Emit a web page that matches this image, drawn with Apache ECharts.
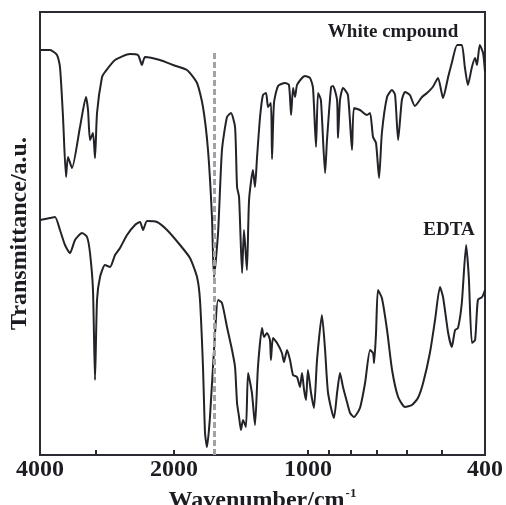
<!DOCTYPE html>
<html>
<head>
<meta charset="utf-8">
<script src="https://cdn.jsdelivr.net/npm/echarts@6/dist/echarts.min.js"></script>
<style>
  html, body { margin: 0; padding: 0; background: #fff; }
  #chart { width: 506px; height: 505px; }
</style>
</head>
<body>
<div id="chart"></div>
<script>
// IR spectra, wavenumber (cm-1) vs transmittance (arbitrary units)
var whiteWn = [4000, 3798, 3663, 3607, 3551, 3496, 3461, 3390, 3252, 3153, 3120, 3088, 3041, 3009, 2978, 2902, 2858, 2713, 2511, 2409, 2360, 2323, 2150, 2010, 1870, 1775, 1721, 1677, 1643, 1626, 1592, 1560, 1520, 1489, 1458, 1443, 1428, 1406, 1392, 1371, 1356, 1329, 1315, 1301, 1281, 1262, 1242, 1229, 1211, 1204, 1192, 1167, 1126, 1103, 1091, 1080, 1069, 1058, 1031, 1015, 989, 974, 959, 949, 935, 915, 906, 887, 878, 860, 856, 847, 834, 813, 796, 788, 764, 737, 725, 714, 703, 692, 682, 664, 647, 637, 627, 615, 605, 590, 575, 554, 540, 524, 510, 497, 484, 475, 462, 451, 444, 437, 428, 421, 417, 411, 404, 400];
var whiteTr = [405, 405, 400, 388, 338, 278, 298, 287, 328, 358, 345, 315, 322, 297, 342, 378, 383, 395, 401, 400, 390, 398, 395, 390, 385, 372, 348, 305, 238, 178, 222, 305, 338, 342, 328, 268, 258, 182, 225, 185, 255, 285, 268, 298, 338, 360, 362, 348, 352, 296, 352, 369, 372, 370, 340, 367, 358, 370, 377, 379, 377, 367, 308, 362, 355, 282, 315, 368, 369, 355, 317, 355, 367, 360, 305, 347, 345, 340, 342, 318, 312, 277, 322, 358, 365, 360, 315, 355, 363, 360, 349, 358, 362, 368, 377, 357, 378, 392, 410, 410, 388, 370, 388, 397, 390, 410, 402, 383];

var edtaWn = [4000, 3798, 3701, 3607, 3515, 3425, 3337, 3219, 3136, 3088, 3041, 3009, 2978, 2932, 2858, 2784, 2713, 2644, 2550, 2447, 2384, 2347, 2299, 2183, 2073, 1938, 1841, 1775, 1748, 1721, 1703, 1686, 1660, 1617, 1592, 1560, 1520, 1481, 1458, 1443, 1428, 1414, 1399, 1378, 1363, 1336, 1315, 1295, 1268, 1255, 1236, 1217, 1211, 1198, 1173, 1144, 1132, 1114, 1097, 1080, 1058, 1042, 1031, 1020, 1010, 1000, 984, 969, 954, 930, 915, 901, 874, 860, 847, 834, 817, 804, 788, 764, 744, 725, 714, 710, 703, 696, 682, 664, 647, 627, 605, 584, 566, 551, 532, 518, 505, 497, 484, 475, 467, 460, 451, 441, 435, 428, 421, 415, 406, 400];
var edtaTr = [235, 237, 238, 225, 210, 202, 215, 222, 218, 202, 165, 75, 155, 178, 190, 188, 200, 207, 220, 230, 233, 225, 234, 233, 225, 210, 197, 178, 155, 88, 22, 8, 38, 122, 155, 152, 128, 105, 88, 52, 38, 25, 35, 28, 82, 62, 30, 88, 127, 118, 122, 115, 95, 117, 112, 102, 93, 105, 95, 80, 78, 68, 82, 65, 55, 85, 62, 47, 95, 140, 105, 62, 37, 62, 82, 68, 53, 42, 38, 47, 72, 105, 102, 92, 122, 165, 157, 125, 85, 58, 48, 50, 57, 72, 102, 135, 168, 158, 122, 108, 125, 127, 152, 210, 178, 112, 115, 155, 158, 165];

var tickValues = [4000, 3000, 2000, 1000, 900, 800, 700, 600, 500, 400];
var labelValues = [4000, 2000, 1000, 400];
var refLine = 1620;

function pairs(xs, ys) {
  var out = [];
  for (var i = 0; i < xs.length; i++) out.push([xs[i], ys[i]]);
  return out;
}

var FONT = "'Liberation Serif', 'Times New Roman', serif";
var INK = '#1c1c22';

var chart = echarts.init(document.getElementById('chart'));
chart.setOption({
  animation: false,
  grid: {
    left: 40, right: 21, top: 12, bottom: 50,
    containLabel: false,
    outerBoundsMode: 'none',
    show: true,
    borderColor: '#2b2b33',
    borderWidth: 2
  },
  xAxis: {
    type: 'log',
    logBase: 10,
    min: 400,
    max: 4000,
    inverse: true,
    name: '{a|Wavenumber/cm}{b|-1}',
    nameLocation: 'middle',
    nameGap: 30,
    nameTextStyle: {
      rich: {
        a: { fontFamily: FONT, fontWeight: 'bold', fontSize: 24, color: INK },
        b: { fontFamily: FONT, fontWeight: 'bold', fontSize: 13, color: INK, padding: [0, 0, 14, 1] }
      }
    },
    axisLine: { show: true, lineStyle: { color: '#2b2b33', width: 2 } },
    axisTick: {
      show: true, inside: true, length: 5,
      customValues: tickValues,
      lineStyle: { color: '#2b2b33', width: 2 }
    },
    minorTick: { show: false },
    splitLine: { show: false },
    axisLabel: {
      customValues: labelValues,
      formatter: function (v) { return String(Math.round(v)); },
      fontFamily: FONT, fontWeight: 'bold', fontSize: 24, color: INK,
      margin: 3,
      hideOverlap: false,
      showMinLabel: true,
      showMaxLabel: true
    }
  },
  yAxis: {
    type: 'value',
    min: 0,
    max: 443,
    name: 'Transmittance/a.u.',
    nameLocation: 'middle',
    nameGap: 8,
    nameTextStyle: { fontFamily: FONT, fontWeight: 'bold', fontSize: 24, color: INK },
    axisLine: { show: false },
    axisTick: { show: false },
    axisLabel: { show: false },
    splitLine: { show: false }
  },
  series: [
    {
      name: 'White cmpound',
      type: 'line',
      data: pairs(whiteWn, whiteTr),
      showSymbol: false,
      smooth: 0.2,
      lineStyle: { color: '#222228', width: 2 },
      markLine: {
        silent: true,
        symbol: 'none',
        label: { show: false },
        lineStyle: { color: '#a3a3a3', width: 3, type: [6, 3] },
        data: [[{ coord: [refLine, 402] }, { coord: [refLine, 0] }]]
      }
    },
    {
      name: 'EDTA',
      type: 'line',
      data: pairs(edtaWn, edtaTr),
      showSymbol: false,
      smooth: 0.2,
      lineStyle: { color: '#222228', width: 2 }
    }
  ],
  graphic: [
    {
      type: 'text', x: 393, y: 32,
      style: { text: 'White cmpound', font: 'bold 19px ' + FONT, fill: INK, align: 'center', verticalAlign: 'middle' }
    },
    {
      type: 'text', x: 449, y: 230,
      style: { text: 'EDTA', font: 'bold 19px ' + FONT, fill: INK, align: 'center', verticalAlign: 'middle' }
    }
  ]
});
</script>
</body>
</html>
